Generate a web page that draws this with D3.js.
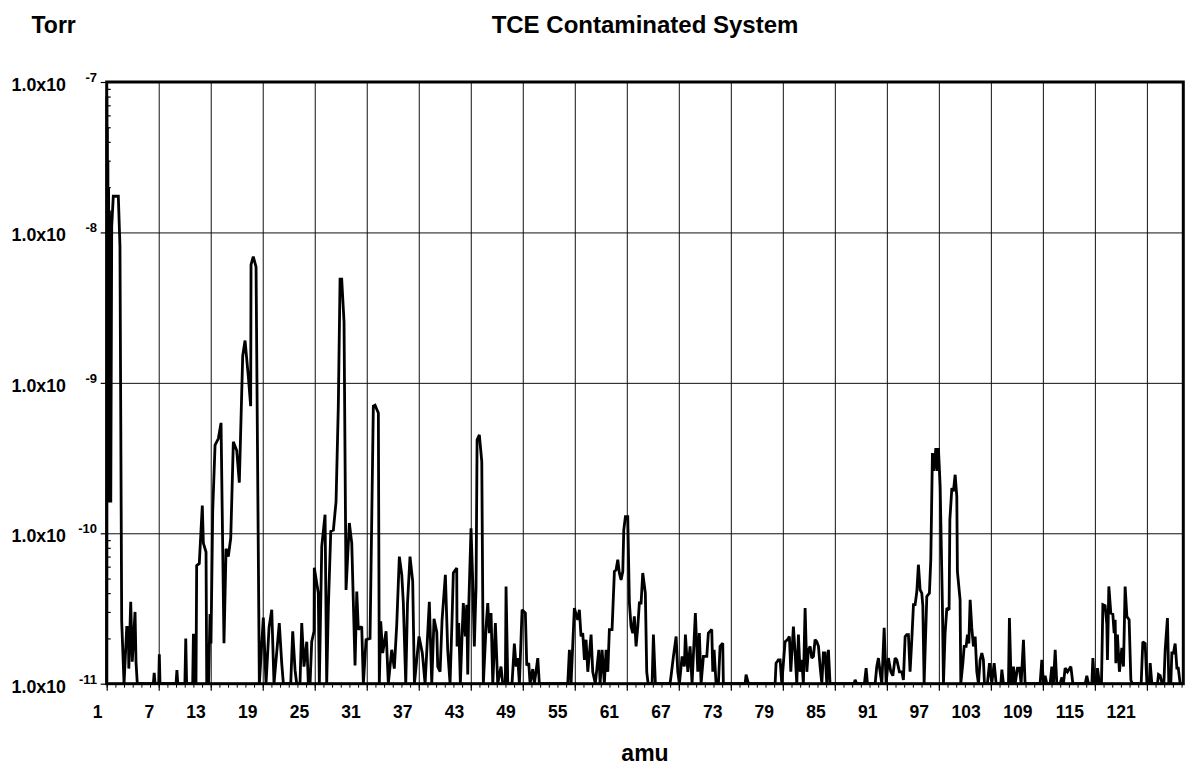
<!DOCTYPE html>
<html>
<head>
<meta charset="utf-8">
<script src="https://cdn.jsdelivr.net/npm/d3@7"></script>
<style>
  html, body { margin: 0; padding: 0; background: #fff; }
  svg { display: block; font-family: "Liberation Sans", Arial, Helvetica, sans-serif; font-weight: bold; }
</style>
</head>
<body>
<svg id="chart" width="1189" height="765"></svg>
<script>
// ---- data ----
const chartTitle = "TCE Contaminated System";
const yTitle = "Torr";
const xTitle = "amu";
const xTickValues = [1, 7, 13, 19, 25, 31, 37, 43, 49, 55, 61, 67, 73, 79, 85, 91, 97, 103, 109, 115, 121];
const yTickExponents = [-7, -8, -9, -10, -11];
const xDomain = [1, 125.2];
const yDomain = [1e-11, 1e-7];

// scan: [amu, pressure in Torr]
const scan = [
[1.00,1e-11],[1.02,8e-8],[1.05,2.0e-10],[1.08,5e-8],[1.11,1.8e-10],[1.14,3.0e-8],[1.18,1.7e-10],[1.22,2.0e-8],[1.27,1.6e-10],[1.32,1.4e-8],[1.37,2.0e-10],[1.42,1.2e-8],[1.47,1.6e-10],[1.58,1.1e-8],[1.76,1.74e-8],[2.34,1.74e-8],[2.53,8.1e-9],[2.73,2.6e-11],[3.00,1e-11],
[3.31,2.37e-11],[3.49,2.37e-11],[3.55,1.26e-11],[3.77,3.5e-11],[3.95,1.4e-11],[4.27,3.0e-11],[4.38,1.4e-11],[4.53,1e-11],
[6.38,1e-11],[6.48,1.18e-11],[6.58,1e-11],[7.00,1e-11],[7.07,1.57e-11],[7.15,1e-11],
[9.00,1e-11],[9.10,1.23e-11],[9.20,1e-11],[10.02,1e-11],[10.12,2.0e-11],[10.22,1e-11],
[10.92,1e-11],[11.00,2.1e-11],[11.12,2.1e-11],[11.20,1e-11],[11.30,1e-11],[11.38,6.1e-11],[11.68,6.3e-11],[12.03,1.53e-10],[12.15,8.6e-11],[12.46,7.5e-11],[12.54,1e-11],[12.61,1.85e-11],[12.75,1e-11],[12.92,2.9e-11],[13.03,1.85e-11],[13.23,1.41e-10],[13.50,3.85e-10],[13.88,4.26e-10],[14.19,5.42e-10],[14.53,1.86e-11],[14.77,7.9e-11],[15.03,7.0e-11],[15.31,9.3e-11],[15.61,4.06e-10],[16.00,3.55e-10],[16.30,2.17e-10],[16.69,1.51e-9],[16.96,1.91e-9],[17.34,1.10e-9],[17.61,7.0e-10],[17.65,6.1e-9],[17.91,6.9e-9],[18.23,5.9e-9],[18.61,1e-11],
[19.07,2.75e-11],[19.38,1e-11],[19.73,2.37e-11],[20.04,3.1e-11],[20.30,1e-11],[20.91,2.53e-11],[21.19,1.37e-11],[21.38,1e-11],[22.23,1e-11],[22.46,2.23e-11],[22.73,1.23e-11],[22.92,1e-11],[23.30,1e-11],[23.50,2.53e-11],[23.76,1.30e-11],[24.08,1.9e-11],[24.26,1e-11],[24.46,1e-11],[24.65,1.9e-11],[24.92,2.23e-11],[24.95,5.9e-11],[25.41,4.0e-11],[25.53,1e-11],[25.81,8.2e-11],[26.19,1.33e-10],[26.38,1e-11],[26.57,3.2e-11],[26.85,1.03e-10],[27.15,1.05e-10],[27.46,1.63e-10],[27.72,7.0e-10],[27.92,4.9e-9],[28.11,4.9e-9],[28.38,2.55e-9],[28.61,4.2e-11],[28.99,1.17e-10],[29.27,8.6e-11],[29.65,1.32e-11],[29.85,4.1e-11],[30.03,2.29e-11],[30.42,2.4e-11],[30.61,1e-11],[30.92,1.96e-11],[31.38,2.0e-11],[31.76,7.0e-10],[31.96,7.1e-10],[32.34,6.3e-10],[32.45,1e-11],[32.61,2.6e-11],[32.84,1.6e-11],[33.23,2.23e-11],[33.49,1e-11],[33.88,1.68e-11],[34.18,1.26e-11],[34.46,2.47e-11],[34.76,7.0e-11],[35.04,5.3e-11],[35.22,3.44e-11],[35.50,1e-11],[35.70,3.4e-11],[35.99,7.0e-11],[36.30,4.8e-11],[36.50,1e-11],[37.03,2.06e-11],[37.41,1.6e-11],[37.73,1e-11],[38.22,3.5e-11],[38.50,1e-11],[38.76,2.7e-11],[39.08,2.2e-11],[39.19,1.30e-11],[39.46,1.2e-11],[39.69,2.66e-11],[40.07,5.3e-11],[40.34,1.68e-11],[40.61,1e-11],[40.84,2.66e-11],[40.99,5.44e-11],[41.38,5.87e-11],[41.42,1.77e-11],[41.61,2.53e-11],[41.80,1e-11],[41.99,2.06e-11],[42.14,3.44e-11],[42.37,2.06e-11],[42.54,3.35e-11],[42.65,1.15e-11],[42.77,3.3e-11],[43.03,1.08e-10],[43.23,4.7e-11],[43.41,1.77e-11],[43.61,4.43e-11],[43.73,4.18e-10],[43.99,4.51e-10],[44.27,3.0e-10],[44.45,1e-11],[44.76,2.35e-11],[44.96,3.44e-11],[45.14,2.17e-11],[45.34,2.95e-11],[45.54,1e-11],[45.84,2.53e-11],[46.11,1e-11],[46.49,1.30e-11],[46.69,1e-11],[46.99,1e-11],[47.07,4.43e-11],[47.27,1e-11],[47.76,1e-11],[48.03,1.85e-11],[48.23,1.30e-11],[48.42,1.48e-11],[48.61,1e-11],[48.92,3.1e-11],[49.30,2.95e-11],[49.46,1.32e-11],[49.69,1.37e-11],[49.84,1e-11],[50.15,1.25e-11],[50.34,1e-11],[50.73,1.48e-11],[50.91,1e-11],
[54.19,1e-11],[54.38,1.68e-11],[54.57,1e-11],[54.95,3.18e-11],[55.34,2.66e-11],[55.53,3.1e-11],[55.72,2.06e-11],[55.92,2.17e-11],[56.11,1.44e-11],[56.30,1.96e-11],[56.50,1.2e-11],[56.88,2.12e-11],[57.07,1.2e-11],[57.37,1e-11],[57.77,1.68e-11],[57.92,1e-11],[58.15,1.68e-11],[58.41,1e-11],[58.61,1.68e-11],[58.81,1.2e-11],[58.99,2.29e-11],[59.30,2.29e-11],[59.57,5.58e-11],[59.76,5.7e-11],[59.96,6.67e-11],[60.14,5.44e-11],[60.34,4.9e-11],[60.54,5.58e-11],[60.65,1.05e-10],[60.84,1.29e-10],[61.11,1.29e-10],[61.30,3.44e-11],[61.49,2.4e-11],[61.69,2.17e-11],[61.87,2.8e-11],[62.07,1.77e-11],[62.27,2.4e-11],[62.45,3.44e-11],[62.65,3.44e-11],[62.84,5.44e-11],[63.14,4.0e-11],[63.30,1.2e-11],[63.46,1e-11],[63.92,1e-11],[64.07,2.12e-11],[64.30,1e-11],
[65.99,1e-11],[66.11,1.13e-11],[66.38,1.52e-11],[66.69,2.06e-11],[66.88,1.2e-11],[67.07,1e-11],[67.38,1.52e-11],[67.64,1.30e-11],[67.76,2.12e-11],[68.04,1.2e-11],[68.30,1.77e-11],[68.53,1e-11],[68.91,2.95e-11],[69.19,1.2e-11],[69.37,2.17e-11],[69.57,1e-11],[69.84,1.52e-11],[70.23,1.52e-11],[70.41,2.17e-11],[70.80,2.29e-11],[70.92,1.2e-11],[71.07,1.68e-11],[71.30,1e-11],[71.57,1e-11],[71.76,1.77e-11],[72.07,1.86e-11],[72.14,1e-11],
[74.65,1e-11],[74.76,1.15e-11],[75.03,1e-11],
[78.11,1e-11],[78.22,1.37e-11],[78.49,1.44e-11],[78.69,1.44e-11],[78.88,1e-11],[79.26,1.9e-11],[79.53,1.96e-11],[79.76,2.06e-11],[79.92,1.2e-11],[80.22,2.4e-11],[80.42,1.6e-11],[80.61,1e-11],[80.80,2.12e-11],[80.99,1.2e-11],[81.19,1.44e-11],[81.37,1e-11],[81.57,3.18e-11],[81.77,1.2e-11],[81.95,1.68e-11],[82.15,1.77e-11],[82.34,1.48e-11],[82.53,1.52e-11],[82.72,1.96e-11],[82.92,1.9e-11],[83.11,1.77e-11],[83.30,1.30e-11],[83.50,1e-11],[83.68,1.6e-11],[83.88,1.6e-11],[84.07,1e-11],[84.26,1.68e-11],[84.45,1e-11],
[87.22,1e-11],[87.34,1.06e-11],[87.53,1e-11],[88.41,1e-11],[88.61,1.27e-11],[88.76,1e-11],[89.65,1e-11],[89.84,1.30e-11],[90.03,1.48e-11],[90.22,1.2e-11],[90.42,1e-11],[90.69,2.35e-11],[90.92,1e-11],[91.18,1.48e-11],[91.46,1.2e-11],[91.69,1.13e-11],[91.95,1.48e-11],[92.15,1.44e-11],[92.45,1.2e-11],[92.73,1.2e-11],[92.91,1.06e-11],[93.11,2.06e-11],[93.30,2.12e-11],[93.49,2.12e-11],[93.68,1.2e-11],[93.88,1.96e-11],[94.07,3.35e-11],[94.26,3.35e-11],[94.46,4.1e-11],[94.64,6.18e-11],[94.84,4.21e-11],[95.03,4.0e-11],[95.15,3.3e-11],[95.30,1e-11],[95.61,3.8e-11],[95.91,4.0e-11],[96.07,6.67e-11],[96.26,3.41e-10],[96.45,2.6e-10],[96.65,3.68e-10],[96.83,2.6e-10],[96.95,3.68e-10],[97.15,2.05e-10],[97.41,3.3e-11],[97.53,1e-11],[97.72,2.17e-11],[97.92,3.18e-11],[98.18,3.1e-11],[98.27,1.23e-10],[98.50,2.0e-10],[98.68,1.9e-10],[98.88,2.45e-10],[99.07,1.76e-10],[99.14,5.58e-11],[99.45,3.61e-11],[99.53,1e-11],[99.77,1.37e-11],[99.92,1.77e-11],[100.15,1.77e-11],[100.30,2.12e-11],[100.46,1.85e-11],[100.61,3.61e-11],[100.80,2.35e-11],[100.99,1.77e-11],[101.19,2.06e-11],[101.38,1.2e-11],[101.57,1e-11],[101.76,1.44e-11],[101.96,1.6e-11],[102.14,1.44e-11],[102.26,1e-11],[102.60,1e-11],[102.84,1.37e-11],[103.11,1e-11],[103.38,1.37e-11],[103.61,1e-11],[104.15,1e-11],[104.27,1.24e-11],[104.45,1e-11],[105.03,1e-11],[105.14,2.73e-11],[105.34,1e-11],[105.50,1e-11],[105.61,1.30e-11],[105.80,1e-11],[106.07,1.27e-11],[106.30,1.27e-11],[106.49,1e-11],[106.76,1.96e-11],[106.95,1e-11],
[108.68,1e-11],[108.88,1.44e-11],[109.07,1e-11],[109.26,1.13e-11],[109.46,1e-11],[109.84,1e-11],[110.03,1.30e-11],[110.22,1e-11],[110.42,1.68e-11],[110.61,1e-11],[110.99,1e-11],[111.19,1.1e-11],[111.37,1e-11],[111.57,1.27e-11],[111.84,1.2e-11],[112.23,1.30e-11],[112.46,1e-11],[113.88,1e-11],[114.07,1.13e-11],[114.26,1e-11],[114.65,1e-11],[114.77,1.48e-11],[114.95,1e-11],[115.15,1e-11],[115.30,1.27e-11],[115.53,1e-11],[115.76,1e-11],[115.92,3.35e-11],[116.18,3.3e-11],[116.38,2.47e-11],[116.45,1.44e-11],[116.61,4.43e-11],[116.84,2.95e-11],[117.07,2.9e-11],[117.22,2.17e-11],[117.34,2.66e-11],[117.42,1.37e-11],[117.60,2.12e-11],[117.83,1.2e-11],[118.11,1.73e-11],[118.30,1.30e-11],[118.49,4.43e-11],[118.69,2.8e-11],[118.95,2.66e-11],[119.15,1.06e-11],[119.30,1e-11],[120.34,1e-11],[120.53,1.9e-11],[120.80,1.85e-11],[121.00,1e-11],[121.26,1e-11],[121.38,1.37e-11],[121.57,1e-11],[122.22,1e-11],[122.34,1.15e-11],[122.53,1.13e-11],[122.76,1e-11],[122.96,1e-11],[123.11,1.68e-11],[123.37,2.73e-11],[123.53,1e-11],[123.76,1e-11],[123.88,1.6e-11],[124.07,1.6e-11],[124.26,1.85e-11],[124.46,1.27e-11],[124.62,1.27e-11],[124.84,1e-11],[125.20,1e-11]
];

// ---- layout ----
const W = 1189, H = 765;
const margin = { top: 82, right: 5.7, bottom: 81.3, left: 106.7 };
const plotW = W - margin.left - margin.right;
const plotH = H - margin.top - margin.bottom;

const svg = d3.select("#chart");
const g = svg.append("g").attr("transform", `translate(${margin.left},${margin.top})`);

const x = d3.scaleLinear().domain(xDomain).range([0, plotW]);
const y = d3.scaleLog().domain(yDomain).range([plotH, 0]);

const yMajor = yTickExponents.map(e => Math.pow(10, e));
const yMinor = [];
for (let e = -11; e < -7; e++) for (let m = 2; m <= 9; m++) yMinor.push(m * Math.pow(10, e));
const xMinor = d3.range(xDomain[0], Math.floor(xDomain[1]) + 1, 1);

// grid lines
g.append("g")
  .attr("transform", `translate(0,${plotH})`)
  .call(d3.axisBottom(x).tickValues(xTickValues.slice(1)).tickSize(-plotH).tickFormat(""))
  .call(s => s.select(".domain").remove())
  .call(s => s.selectAll("line").attr("stroke", "#111").attr("stroke-width", 1));
g.append("g")
  .call(d3.axisLeft(y).tickValues(yMajor.slice(1, -1)).tickSize(-plotW).tickFormat(""))
  .call(s => s.select(".domain").remove())
  .call(s => s.selectAll("line").attr("stroke", "#111").attr("stroke-width", 1));

// the scan trace
const line = d3.line().x(d => x(d[0])).y(d => y(d[1]));
g.append("path")
  .datum(scan)
  .attr("d", line)
  .attr("fill", "none")
  .attr("stroke", "#000")
  .attr("stroke-width", 2.8)
  .attr("stroke-linejoin", "miter")
  .attr("stroke-miterlimit", 2);

// x axis: minor + major ticks with labels
g.append("g")
  .attr("transform", `translate(0,${plotH})`)
  .call(d3.axisBottom(x).tickValues(xMinor).tickSize(4).tickFormat(""))
  .call(s => s.select(".domain").remove())
  .call(s => s.selectAll("line").attr("stroke", "#000"));
const xAxis = g.append("g")
  .attr("transform", `translate(0,${plotH})`)
  .call(d3.axisBottom(x).tickValues(xTickValues).tickSize(7).tickFormat(d3.format("d")))
  .call(s => s.select(".domain").remove())
  .call(s => s.selectAll("line").attr("stroke", "#000").attr("stroke-width", 1.2));
xAxis.selectAll("text")
  .attr("y", 34.6)
  .attr("dy", null)
  .attr("x", (d, i) => -4.7 - i * 0.35)
  .attr("text-anchor", "end")
  .attr("font-family", null)
  .attr("font-size", 17.5)
  .attr("font-weight", "bold")
  .attr("fill", "#000");

// y axis: minor ticks inside, major ticks outside with labels
g.append("g")
  .call(d3.axisRight(y).tickValues(yMinor).tickSize(4).tickFormat(""))
  .call(s => s.select(".domain").remove())
  .call(s => s.selectAll("line").attr("stroke", "#000").attr("stroke-width", 1.2));
const yAxis = g.append("g")
  .call(d3.axisLeft(y).tickValues(yMajor).tickSize(6).tickFormat(""))
  .call(s => s.select(".domain").remove())
  .call(s => s.selectAll("line").attr("stroke", "#000").attr("stroke-width", 1.2));
yAxis.selectAll(".tick").each(function(d) {
  const t = d3.select(this);
  const ex = Math.round(Math.log10(d));
  t.append("text")
    .attr("x", -40.7).attr("y", 8.5)
    .attr("text-anchor", "end")
    .attr("font-size", 17.8).attr("font-weight", "bold").attr("fill", "#000")
    .text("1.0x10");
  t.append("text")
    .attr("x", -9.7).attr("y", -0.5)
    .attr("text-anchor", "end")
    .attr("font-size", 13).attr("font-weight", "bold").attr("fill", "#000")
    .text(String(ex));
});

// frame
g.append("rect")
  .attr("x", 0).attr("y", 0).attr("width", plotW).attr("height", plotH)
  .attr("fill", "none").attr("stroke", "#000").attr("stroke-width", 3);

// titles
svg.append("text")
  .attr("x", margin.left + plotW / 2).attr("y", 33)
  .attr("text-anchor", "middle").attr("font-size", 24).attr("fill", "#000")
  .text(chartTitle);
svg.append("text")
  .attr("x", 31.5).attr("y", 32.5)
  .attr("text-anchor", "start").attr("font-size", 23).attr("fill", "#000")
  .text(yTitle);
svg.append("text")
  .attr("x", margin.left + plotW / 2).attr("y", 761)
  .attr("text-anchor", "middle").attr("font-size", 23).attr("fill", "#000")
  .text(xTitle);
</script>
</body>
</html>
